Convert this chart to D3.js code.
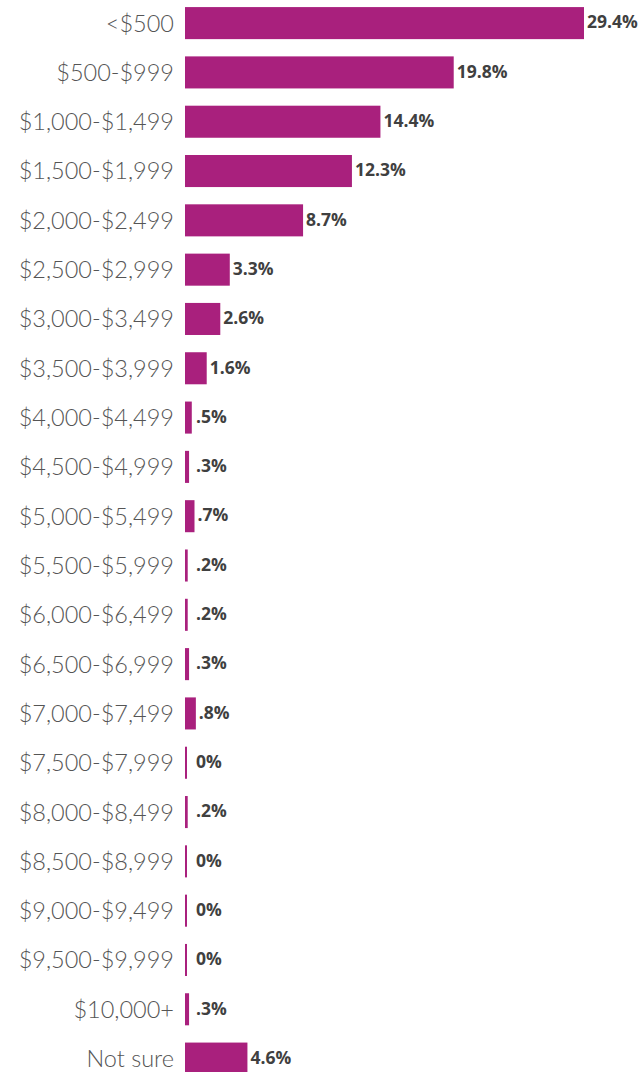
<!DOCTYPE html>
<html>
<head>
<meta charset="utf-8">
<script src="https://cdn.jsdelivr.net/npm/d3@7/dist/d3.min.js"></script>
<style>
  body { margin: 0; background: #fff; }
  .cat { font-family: Lato, sans-serif; font-weight: 300; font-size: 23.5px; fill: #555; }
  .val { font-family: "Open Sans", sans-serif; font-weight: 700; font-size: 17.5px; fill: #404040; }
</style>
</head>
<body>
<svg id="chart" width="644" height="1072"></svg>
<script>
const categories = ['<$500', '$500-$999', '$1,000-$1,499', '$1,500-$1,999', '$2,000-$2,499',
  '$2,500-$2,999', '$3,000-$3,499', '$3,500-$3,999', '$4,000-$4,499', '$4,500-$4,999',
  '$5,000-$5,499', '$5,500-$5,999', '$6,000-$6,499', '$6,500-$6,999', '$7,000-$7,499',
  '$7,500-$7,999', '$8,000-$8,499', '$8,500-$8,999', '$9,000-$9,499', '$9,500-$9,999',
  '$10,000+', 'Not sure'];
const values = [29.4, 19.8, 14.4, 12.3, 8.7, 3.3, 2.6, 1.6, 0.5, 0.3, 0.7, 0.2, 0.2, 0.3, 0.8,
  0, 0.2, 0, 0, 0, 0.3, 4.6];
const valueLabels = ['29.4%', '19.8%', '14.4%', '12.3%', '8.7%', '3.3%', '2.6%', '1.6%', '.5%', '.3%',
  '.7%', '.2%', '.2%', '.3%', '.8%', '0%', '.2%', '0%', '0%', '0%', '.3%', '4.6%'];

const svg = d3.select('#chart');
const left = 185;

const data = categories.map((c, i) => ({ cat: c, value: values[i], label: valueLabels[i] }));

const x = d3.scaleLinear().domain([0, 29.4]).range([left, 584]);
const y = d3.scaleBand().domain(categories).range([-1.3, 1083]).paddingInner(0.35).paddingOuter(0.17);

const g = svg.append('g');

// bars, with a thin minimum so the 0% rows still show a line
g.selectAll('rect').data(data).enter().append('rect')
  .attr('x', left)
  .attr('y', d => y(d.cat))
  .attr('width', d => Math.max(2, x(d.value) - left))
  .attr('height', y.bandwidth())
  .attr('fill', '#A9207D');

g.selectAll('.cat').data(data).enter().append('text')
  .attr('class', 'cat')
  .attr('x', 174)
  .attr('y', d => y(d.cat) + y.bandwidth() / 2)
  .attr('dy', '0.36em')
  .attr('text-anchor', 'end')
  .text(d => d.cat);

g.selectAll('.val').data(data).enter().append('text')
  .attr('class', 'val')
  .attr('x', d => Math.max(left + Math.max(2, x(d.value) - left) + 3, 196))
  .attr('y', d => y(d.cat) + y.bandwidth() / 2)
  .attr('dy', '0.3em')
  .text(d => d.label);
</script>
</body>
</html>
